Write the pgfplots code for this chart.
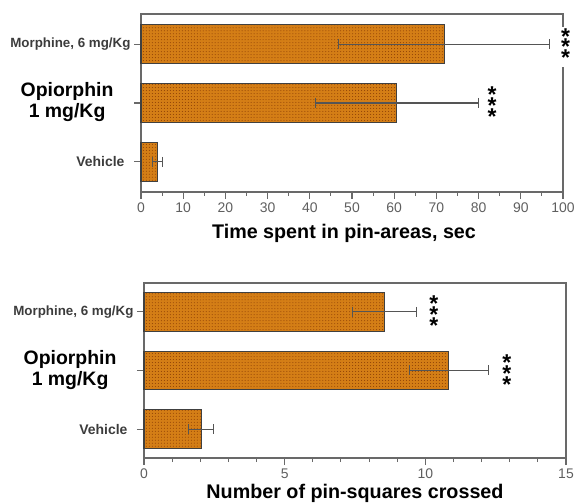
\documentclass[border=0pt]{standalone}
\usepackage{fontspec}
\setmainfont{Liberation Sans}
\usepackage{pgfplots}
\pgfplotsset{compat=1.18}
\usetikzlibrary{patterns}
\definecolor{barfill}{RGB}{212,126,22}
\definecolor{dotc}{RGB}{140,62,5}
\definecolor{axgray}{RGB}{105,105,105}
\definecolor{lblgray}{RGB}{95,95,95}
\definecolor{ylblgray}{RGB}{60,60,60}
\definecolor{errgray}{RGB}{85,85,85}
\tikzset{stars/.style={align=center, font=\bfseries\fontsize{23}{23}\selectfont, inner sep=1bp}}
\pgfplotsset{
 mystyle/.style={
  scale only axis, width=422bp, clip=false,
  axis line style={axgray, line width=1.1bp},
  tick style={axgray, line width=1.1bp},
  tick align=outside, tick pos=left,
  major tick length=7bp, minor tick length=4bp,
  ytick={0,1,2},
  yticklabels={{\fontsize{14}{16}\selectfont\color{ylblgray}Vehicle\kern6bp},
    {\fontsize{19.5}{21}\selectfont\color{black}\begin{tabular}{@{}c@{}}Opiorphin\\1 mg/Kg\end{tabular}\kern17bp},
    {\color{ylblgray}Morphine, 6 mg/Kg}},
  xticklabel style={font=\fontsize{14}{16}\selectfont, lblgray},
  yticklabel style={font=\bfseries\fontsize{13.4}{15}\selectfont},
  /pgf/number format/assume math mode=true,
  xlabel style={font=\bfseries\fontsize{19.8}{22}\selectfont, black, anchor=center, at={(axis description cs:0.5,0)}},
 },
 bars/.style={xbar, bar width=0.66, fill=barfill, draw=black!75, line width=1.2bp, postaction={pattern=dots, pattern color=dotc}},
 errs/.style={errgray, line width=1.1bp, mark=|, mark size=5bp, mark options={solid, errgray, line width=1.1bp}, unbounded coords=jump, forget plot},
}
\begin{document}
\begin{tikzpicture}
\useasboundingbox (0,0) rectangle (575bp,503bp);
\begin{axis}[mystyle, at={(141bp,311bp)}, height=178bp,
  xmin=0, xmax=100, xtick={0,10,...,100}, minor x tick num=1,
  ymin=-0.51, ymax=2.51,
  xlabel={Time spent in pin-areas, sec},
  xlabel style={yshift=-41bp, xshift=-8bp}]
\addplot[bars] coordinates {(3.9,0) (60.6,1) (71.9,2)};
% error bars: mean - SEM to mean + SEM
\addplot[errs] coordinates {(2.8,0) (5.0,0) (nan,nan) (41.3,1) (79.9,1) (nan,nan) (46.9,2) (96.9,2)};
\node[stars, fill=white, yshift=-3bp] at (axis cs:100.6,2) {*\\[-12bp]*\\[-12bp]*};
\node[stars, yshift=-3bp] at (axis cs:83.2,1) {*\\[-12bp]*\\[-12bp]*};
\end{axis}
\begin{axis}[mystyle, at={(144bp,45bp)}, height=175bp,
  xmin=0, xmax=15, xtick={0,5,10,15}, minor x tick num=4,
  ymin=-0.49, ymax=2.49,
  xlabel={Number of pin-squares crossed},
  xlabel style={yshift=-35bp}]
\addplot[bars] coordinates {(2.03,0) (10.83,1) (8.54,2)};
\addplot[errs] coordinates {(1.59,0) (2.47,0) (nan,nan) (9.43,1) (12.23,1) (nan,nan) (7.41,2) (9.67,2)};
\node[stars, yshift=-3bp] at (axis cs:10.3,2) {*\\[-12bp]*\\[-12bp]*};
\node[stars, yshift=-3bp] at (axis cs:12.9,1) {*\\[-12bp]*\\[-12bp]*};
\end{axis}
\end{tikzpicture}
\end{document}
